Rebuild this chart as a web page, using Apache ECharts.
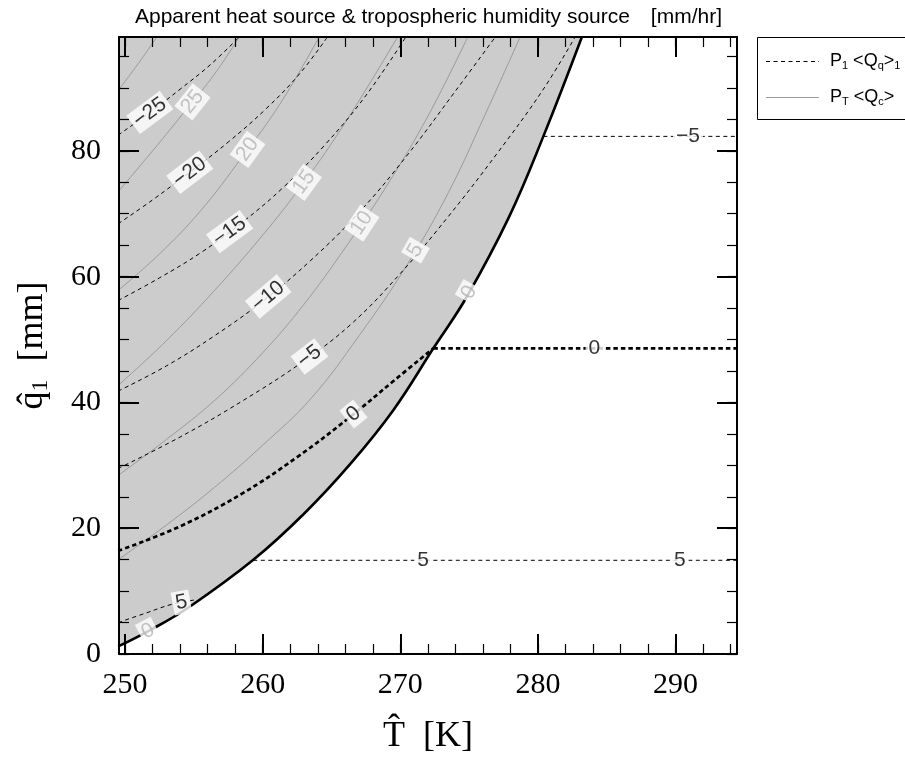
<!DOCTYPE html>
<html>
<head>
<meta charset="utf-8">
<script src="https://cdn.jsdelivr.net/npm/echarts@6/dist/echarts.min.js"></script>
<style>
html, body { margin: 0; padding: 0; background: #fff; }
#main { width: 905px; height: 760px; }
</style>
</head>
<body>
<div id="main"></div>
<script>
// axis extents and ticks
const xMin = 249.56, xMax = 294.46
const yMin = 0, yMax = 98.1
const xMajorTicks = [250, 260, 270, 280, 290]
const xMinorTicks = [250, 252, 254, 256, 258, 260, 262, 264, 266, 268, 270, 272, 274, 276, 278, 280, 282, 284, 286, 288, 290, 292, 294]
const yMajorTicks = [0, 20, 40, 60, 80]
const yMinorTicks = [0, 5, 10, 15, 20, 25, 30, 35, 40, 45, 50, 55, 60, 65, 70, 75, 80, 85, 90, 95]

// saturation boundary (also the P_T<Qc> = 0 contour), [T, q]
const boundary = [[249.5, 1.2], [252, 4.0], [254.72, 7.56], [259.32, 14.98], [263, 22.3], [266.4, 30.3], [269.5, 38.8], [272.4, 48.6], [274.83, 56.8], [277.9, 69.5], [280.39, 82.3], [283.19, 98.1]]

// P1<Qq>1 contours (dashed)
const qqM25 = [[249.5, 82.5], [251.8, 86.1], [254, 89.8], [256.2, 93.7], [258.3, 98.1]]
const qqM20 = [[249.5, 68.4], [252, 72.2], [254.7, 76.6], [257.5, 81.4], [260.3, 86.8], [262.7, 92.3], [264.7, 98.1]]
const qqM15 = [[249.5, 56.2], [252.5, 59.8], [255.5, 63.8], [258.5, 68.6], [261.5, 74.2], [264.5, 80.9], [267.5, 88.8], [270.4, 98.1]]
const qqM10 = [[249.5, 41.8], [253, 45.8], [256.5, 50.6], [260, 56.1], [263.5, 62.6], [267, 70.2], [270.5, 79.3], [274, 89.5], [276.9, 98.1]]
const qqM5 = [[249.5, 29.5], [254, 34.5], [258.5, 40.2], [263, 46.6], [266.5, 52.6], [270, 60.5], [273.5, 69.6], [277, 79.5], [280.3, 89.5], [282.7, 98.1]]
const qq0 = [[249.5, 16.4], [254, 20.3], [258.5, 25.5], [262.5, 31.3], [266.3, 37.6], [269.5, 43.4], [272.4, 48.6]]
const qq5 = [[249.5, 5.0], [251.5, 6.5], [253.4, 7.9], [255.1, 8.6]]
// unsaturated side: flat contours
const qqFlatM5 = [[280.39, 82.3], [294.46, 82.3]]
const qqFlat0 = [[272.4, 48.6], [294.46, 48.6]]
const qqFlat5 = [[259.32, 14.9], [294.46, 14.9]]

// PT<Qc> contours (grey)
const qc30 = [[249.5, 89.6], [251, 94], [252.3, 98.1]]
const qc25 = [[249.5, 73.5], [252, 80], [254.5, 86.7], [256.5, 92.2], [258.3, 98.1]]
const qc20 = [[249.5, 57.8], [252.5, 63.6], [255.5, 70.5], [258.5, 79], [261.3, 87.6], [264.1, 98.1]]
const qc15 = [[249.5, 42.7], [253, 49.8], [256.5, 57.8], [260, 66.6], [263, 75], [266, 84.5], [269.8, 98.1]]
const qc10 = [[249.5, 28.4], [253, 34.1], [256.6, 40.5], [260, 47.9], [263, 55.6], [266, 64.6], [269, 74.4], [272, 85.5], [274.9, 98.1]]
const qc5 = [[249.5, 15], [253, 20.5], [256.5, 26.5], [260, 33.2], [263.5, 40.6], [267, 50.6], [270.5, 61.9], [273.5, 73.4], [276.5, 87.4], [278.7, 98.1]]

// contour labels: [curve, T, text]
const dashedLabels = [
    [qqM25, 251.8, '\u221225'], [qqM20, 254.7, '\u221220'], [qqM15, 257.6, '\u221215'],
    [qqM10, 260.4, '\u221210'], [qqM5, 263.4, '\u22125'], [qq0, 266.6, '0'], [qq5, 254.1, '5'],
    [qqFlatM5, 290.9, '\u22125'], [qqFlat0, 284.1, '0'], [qqFlat5, 271.65, '5'], [qqFlat5, 290.3, '5'],
]
const greyLabels = [
    [qc25, 254.9, '25'], [qc20, 258.9, '20'], [qc15, 263, '15'], [qc10, 267.2, '10'],
    [qc5, 271.1, '5'], [boundary, 275, '0'], [boundary, 251.67, '0'],
]

const SERIF = '"Liberation Serif", "Times New Roman", serif'
const SANS = '"Liberation Sans", Arial, Helvetica, sans-serif'

function qAt(curve, t) {
    for (let i = 0; i < curve.length - 1; i++) {
        const a = curve[i], b = curve[i + 1]
        if (t >= a[0] && t <= b[0]) return a[1] + (b[1] - a[1]) * (t - a[0]) / (b[0] - a[0])
    }
    return t < curve[0][0] ? curve[0][1] : curve[curve.length - 1][1]
}

function makeAxis(dim, position, ticks, len, width, labels, extra) {
    const isX = dim === 'x'
    return Object.assign({
        type: 'value',
        position: position,
        min: isX ? xMin : yMin,
        max: isX ? xMax : yMax,
        z: 10,
        axisLine: { show: true, onZero: false, lineStyle: { color: '#000', width: 2 } },
        axisTick: { show: true, inside: true, length: len, customValues: ticks, lineStyle: { color: '#000', width: width } },
        axisLabel: labels ? {
            show: true, customValues: labels, color: '#000', fontFamily: SERIF, fontSize: 30,
            margin: isX ? 16 : 18,
        } : { show: false },
        splitLine: { show: false },
        minorTick: { show: false },
    }, extra || {})
}

function contour(data, style, z, smooth) {
    return {
        type: 'line', data: data, xAxisIndex: 0, yAxisIndex: 0, z: z,
        showSymbol: false, symbol: 'none', smooth: smooth === false ? false : 0.4,
        lineStyle: style, silent: true,
    }
}

const thinDash = { color: '#000', width: 1, type: [4, 3.5] }
const thickDash = { color: '#000', width: 2.7, type: [4.5, 3] }
const greyLine = { color: '#9a9a9a', width: 1 }

let chart = echarts.init(document.getElementById('main'), null, { renderer: 'canvas' })

let chartOptions = {
    animation: false,
    backgroundColor: '#fff',
    title: [
        {
            text: 'Apparent heat source & tropospheric humidity source',
            left: 130, top: 2,
            textStyle: { fontFamily: SANS, fontSize: 21, fontWeight: 'normal', color: '#000' },
        },
        {
            text: '[mm/hr]',
            right: 178, top: 2,
            textStyle: { fontFamily: SANS, fontSize: 21, fontWeight: 'normal', color: '#000' },
        },
    ],
    grid: { left: 119, right: 168, top: 37, bottom: 106, containLabel: false },
    xAxis: [
        makeAxis('x', 'bottom', xMinorTicks, 10, 1.2, xMajorTicks, {
            name: 'T\u0302  [K]', nameLocation: 'middle', nameGap: 65,
            nameTextStyle: { fontFamily: SERIF, fontSize: 36, color: '#000' },
        }),
        makeAxis('x', 'bottom', xMajorTicks, 20, 2, null, { axisLine: { show: false, onZero: false } }),
        makeAxis('x', 'top', xMinorTicks, 10, 1.2, null),
        makeAxis('x', 'top', xMajorTicks, 20, 2, null, { axisLine: { show: false, onZero: false } }),
    ],
    yAxis: [
        makeAxis('y', 'left', yMinorTicks, 10, 1.2, yMajorTicks, {
            name: '{a|q\u0302}{s|1}{a|  [mm]}', nameLocation: 'middle', nameGap: 66,
            nameTextStyle: {
                color: '#000',
                rich: {
                    a: { fontFamily: SERIF, fontSize: 36, lineHeight: 40, color: '#000' },
                    s: { fontFamily: SERIF, fontSize: 24, lineHeight: 26, verticalAlign: 'bottom', color: '#000' },
                },
            },
        }),
        makeAxis('y', 'left', yMajorTicks, 20, 2, null, { axisLine: { show: false, onZero: false } }),
        makeAxis('y', 'right', yMinorTicks, 10, 1.2, null),
        makeAxis('y', 'right', yMajorTicks, 20, 2, null, { axisLine: { show: false, onZero: false } }),
    ],
    series: [
        // shaded saturated region: fill from the boundary up to the top of the frame
        {
            type: 'line', data: boundary, xAxisIndex: 0, yAxisIndex: 0, z: 1,
            showSymbol: false, symbol: 'none', smooth: 0.4, silent: true,
            lineStyle: { width: 0 },
            areaStyle: { color: '#cccccc', opacity: 1, origin: 'end' },
        },
        contour(qc30, greyLine, 2), contour(qc25, greyLine, 2), contour(qc20, greyLine, 2),
        contour(qc15, greyLine, 2), contour(qc10, greyLine, 2), contour(qc5, greyLine, 2),
        contour(qqM25, thinDash, 3), contour(qqM20, thinDash, 3), contour(qqM15, thinDash, 3),
        contour(qqM10, thinDash, 3), contour(qqM5, thinDash, 3), contour(qq5, thinDash, 3),
        contour(qq0, thickDash, 3),
        contour(qqFlatM5, thinDash, 3, false), contour(qqFlat5, thinDash, 3, false),
        contour(qqFlat0, thickDash, 3, false),
        contour(boundary, { color: '#000', width: 2.6 }, 4),
    ],
    graphic: [
        { type: 'rect', shape: { x: 757.5, y: 37.5, width: 200, height: 82 }, style: { fill: '#fff', stroke: '#000', lineWidth: 1 }, z: 20 },
        { type: 'line', shape: { x1: 766, y1: 61.5, x2: 819, y2: 61.5 }, style: { stroke: '#000', lineWidth: 1, lineDash: [4, 3.5] }, z: 21 },
        { type: 'line', shape: { x1: 766, y1: 97.5, x2: 819, y2: 97.5 }, style: { stroke: '#9a9a9a', lineWidth: 1 }, z: 21 },
        {
            type: 'text', x: 830, y: 61.5, z: 21,
            style: {
                text: '{p|P}{s|1}{p| <Q}{s|q}{p|>}{s|1}', verticalAlign: 'middle',
                rich: {
                    p: { fontFamily: SANS, fontSize: 18, lineHeight: 20, fill: '#000' },
                    s: { fontFamily: SANS, fontSize: 11, lineHeight: 12, verticalAlign: 'bottom', fill: '#000' },
                },
            },
        },
        {
            type: 'text', x: 830, y: 97.5, z: 21,
            style: {
                text: '{p|P}{s|T}{p| <Q}{s|c}{p|>}', verticalAlign: 'middle',
                rich: {
                    p: { fontFamily: SANS, fontSize: 18, lineHeight: 20, fill: '#000' },
                    s: { fontFamily: SANS, fontSize: 11, lineHeight: 12, verticalAlign: 'bottom', fill: '#000' },
                },
            },
        },
    ],
}

chart.setOption(chartOptions)

// contour labels, rotated along the curve using the chart's own scales
function labelItems(list, color) {
    return list.map(([curve, t, text]) => {
        const d = 0.5
        const p0 = chart.convertToPixel({ xAxisIndex: 0, yAxisIndex: 0 }, [t - d, qAt(curve, t - d)])
        const p1 = chart.convertToPixel({ xAxisIndex: 0, yAxisIndex: 0 }, [t + d, qAt(curve, t + d)])
        const ang = -Math.atan2(p1[1] - p0[1], p1[0] - p0[0]) * 180 / Math.PI
        return {
            value: [t, qAt(curve, t)],
            label: { formatter: text, rotate: ang, color: color },
        }
    })
}

const labelStyle = {
    show: true, position: 'inside', fontFamily: SANS, fontSize: 21,
    backgroundColor: '#fff', padding: [2, 3, 0, 3],
}

chart.setOption({
    series: chartOptions.series.concat([
        {
            type: 'scatter', xAxisIndex: 0, yAxisIndex: 0, z: 6, silent: true,
            symbolSize: 1, itemStyle: { color: 'rgba(0,0,0,0)' },
            label: labelStyle,
            data: labelItems(greyLabels, '#b4b4b4'),
        },
        {
            type: 'scatter', xAxisIndex: 0, yAxisIndex: 0, z: 6, silent: true,
            symbolSize: 1, itemStyle: { color: 'rgba(0,0,0,0)' },
            label: labelStyle,
            data: labelItems(dashedLabels, '#000'),
        },
    ]),
})

window.addEventListener('resize', () => {
    if (chart) chart.resize()
})
</script>
</body>
</html>
